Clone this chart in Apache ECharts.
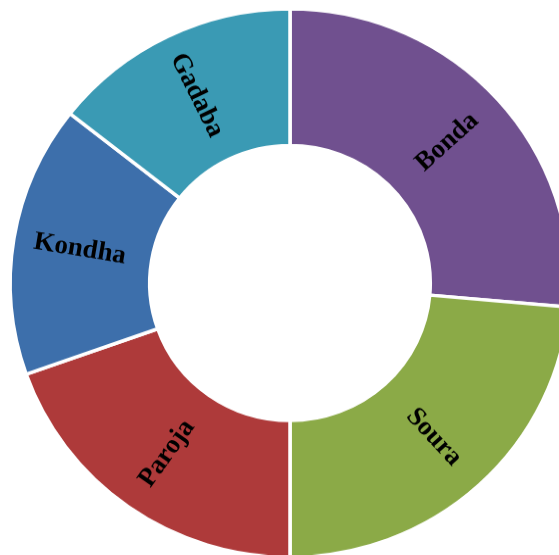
<!DOCTYPE html>
<html>
<head>
<meta charset="utf-8">
<script src="https://cdn.jsdelivr.net/npm/echarts@6/dist/echarts.min.js"></script>
<style>
  html, body { margin: 0; padding: 0; background: #ffffff; overflow: hidden; }
  /* the ring is drawn very slightly flattened vertically */
  #chart { width: 559px; height: 566px; transform: scaleY(0.98); transform-origin: 0 0; }
</style>
</head>
<body>
<div id="chart"></div>
<script>
// Tribe groups and their shares (%), clockwise from 12 o'clock
const tribes = ['Bonda', 'Soura', 'Paroja', 'Kondha', 'Gadaba'];
const shares = [26.4, 23.6, 19.6, 16.0, 14.4];
const sliceColors = ['#70508F', '#8BAA47', '#AE3A3A', '#3D6FAB', '#3A9AB4'];

const chart = echarts.init(document.getElementById('chart'), null, { renderer: 'canvas' });

chart.setOption({
  backgroundColor: '#ffffff',
  animation: false,
  series: [{
    type: 'pie',
    center: [290, 288.8],
    radius: [140.3, 279.8],
    startAngle: 90,
    clockwise: true,
    avoidLabelOverlap: false,
    itemStyle: { borderColor: '#ffffff', borderWidth: 3.5 },
    label: {
      show: true,
      position: 'inside',
      rotate: 'radial',
      color: '#000000',
      fontFamily: '"Liberation Serif", "Times New Roman", serif',
      fontWeight: 'bold',
      fontSize: 27
    },
    labelLine: { show: false },
    emphasis: { disabled: true },
    data: tribes.map((name, i) => ({
      name: name,
      value: shares[i],
      itemStyle: { color: sliceColors[i] }
    }))
  }]
});
</script>
</body>
</html>
